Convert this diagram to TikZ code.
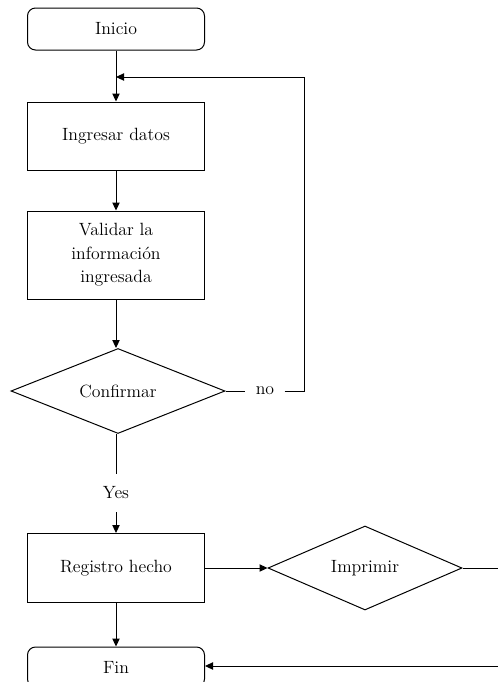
\documentclass[tikz,border=0pt]{standalone}
\usetikzlibrary{shapes.geometric,arrows.meta}

\begin{document}
\begin{tikzpicture}[x=0.75pt,y=-0.75pt,
    font=\fontsize{13.3}{17.6}\selectfont,
    line width=0.75pt,
    terminal/.style={rectangle, rounded corners=6pt, draw, minimum width=132.75pt, inner sep=0pt},
    process/.style={rectangle, draw, minimum width=132.75pt, inner sep=0pt, align=center},
    decision/.style={diamond, draw, aspect=2.5, inner sep=0pt},
    arrow/.style={-{Triangle[length=6pt,width=5.5pt]}}]
      \useasboundingbox (0,0) rectangle (498,682);

      % Nodes
      \node (inicio) at (116,29) [terminal, minimum height=31.5pt] {Inicio};
      \node (ingresar) at (116,136) [process, minimum height=51pt] {Ingresar datos};
      \node (validar) at (116,255) [process, minimum height=66pt] {Validar la\\informaci\'on\\ingresada};
      \node (confirmar) at (118,391) [decision, minimum width=160.5pt, minimum height=63.75pt] {Confirmar};
      \node (no) at (265,391) [inner xsep=7.5pt] {no};
      \node (yes) at (116,493) [inner ysep=9.5pt] {Yes};
      \node (registro) at (116,568) [process, minimum height=51.75pt] {Registro hecho};
      \node (imprimir) at (365,568) [decision, minimum width=145.5pt, minimum height=63pt] {Imprimir};
      \node (fin) at (116,667) [terminal, minimum height=30pt] {Fin};
      \coordinate (back) at (304,77);
      \coordinate (outA) at (498,568);
      \coordinate (outB) at (498,666);

      % Edges
      \draw[arrow] (inicio) -- (ingresar);
      \draw[arrow] (ingresar) -- (validar);
      \draw[arrow] (validar.south) -- (validar.south |- confirmar.north);
      \draw (confirmar.east) -- (no.west);
      \draw[arrow] (no.east) -| (back) -- (inicio.south |- back);
      \draw (confirmar.south -| yes) -- (yes.north);
      \draw[arrow] (yes.south) -- (registro.north);
      \draw[arrow] (registro.east) -- (imprimir.west);
      \draw (imprimir.east) -- (outA);
      \draw[arrow] (registro) -- (fin);
      \draw[arrow] (outB) -- (fin.east |- outB);
    \end{tikzpicture}
\end{document}
